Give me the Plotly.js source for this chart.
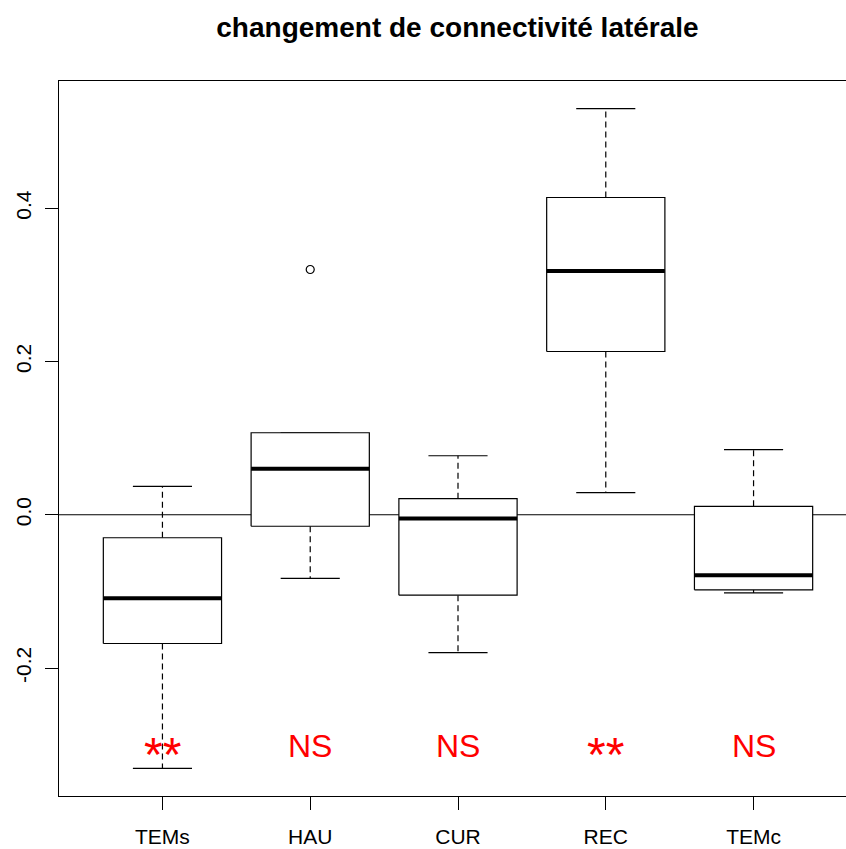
<!DOCTYPE html>
<html>
<head>
<meta charset="utf-8">
<script src="https://cdn.plot.ly/plotly-3.0.1.min.js"></script>
<style>
html, body { margin: 0; padding: 0; overflow: hidden; background: #fff; }
#chart { width: 870px; height: 849px; }
</style>
</head>
<body>
<div id="chart"></div>
<script>
// ---- data ----
const categories   = ['TEMs', 'HAU', 'CUR', 'REC', 'TEMc'];
const lowerWhisker = [-0.331, -0.083, -0.180, 0.029, -0.102];
const q1           = [-0.168, -0.015, -0.105, 0.213, -0.098];
const medians      = [-0.109,  0.060, -0.005, 0.318, -0.079];
const q3           = [-0.030,  0.107,  0.021, 0.414,  0.011];
const upperWhisker = [ 0.037,  0.107,  0.077, 0.530,  0.085];
const outlierCat   = ['HAU'];
const outlierVal   = [0.320];
const signif       = ['**', 'NS', 'NS', '**', 'NS'];
const signifLevel  = -0.302;
const yTicks       = [-0.2, 0.0, 0.2, 0.4];
const yTickText    = ['-0.2', '0.0', '0.2', '0.4'];

// ---- build traces ----
const boxHalf = 0.4, stapleHalf = 0.2;
const traces = [];
const pos = categories.map((c, i) => i + 1);

// whiskers (dashed)
const wx = [], wy = [];
pos.forEach((p, i) => {
  if (upperWhisker[i] > q3[i]) { wx.push(p, p, null); wy.push(q3[i], upperWhisker[i], null); }
  if (lowerWhisker[i] < q1[i]) { wx.push(p, p, null); wy.push(q1[i], lowerWhisker[i], null); }
});
traces.push({ x: wx, y: wy, type: 'scatter', mode: 'lines', hoverinfo: 'skip',
  line: { color: '#000', width: 1.2, dash: '6px,4px' }, connectgaps: false, showlegend: false });

// staples
const sx = [], sy = [];
pos.forEach((p, i) => {
  sx.push(p - stapleHalf, p + stapleHalf, null); sy.push(upperWhisker[i], upperWhisker[i], null);
  sx.push(p - stapleHalf, p + stapleHalf, null); sy.push(lowerWhisker[i], lowerWhisker[i], null);
});
traces.push({ x: sx, y: sy, type: 'scatter', mode: 'lines', hoverinfo: 'skip',
  line: { color: '#000', width: 1.2 }, showlegend: false });

// boxes
pos.forEach((p, i) => {
  traces.push({
    x: [p - boxHalf, p + boxHalf, p + boxHalf, p - boxHalf, p - boxHalf],
    y: [q1[i], q1[i], q3[i], q3[i], q1[i]],
    type: 'scatter', mode: 'lines', fill: 'toself', fillcolor: '#fff',
    line: { color: '#000', width: 1.2 }, hoverinfo: 'skip', showlegend: false
  });
});

// medians
const mx = [], my = [];
pos.forEach((p, i) => { mx.push(p - boxHalf, p + boxHalf, null); my.push(medians[i], medians[i], null); });
traces.push({ x: mx, y: my, type: 'scatter', mode: 'lines', hoverinfo: 'skip',
  line: { color: '#000', width: 4 }, showlegend: false });

// outliers
traces.push({
  x: outlierCat.map(c => categories.indexOf(c) + 1), y: outlierVal,
  type: 'scatter', mode: 'markers', hoverinfo: 'skip', showlegend: false,
  marker: { symbol: 'circle-open', size: 8, color: '#000', line: { width: 1.2, color: '#000' } }
});

// significance labels
const annotations = signif.map((s, i) => {
  const star = s.indexOf('*') >= 0;
  return {
    x: pos[i], y: signifLevel, xref: 'x', yref: 'y', text: s, showarrow: false,
    xanchor: 'center', yanchor: 'middle', yshift: star ? -8 : 0,
    font: { family: 'Liberation Sans, Arial, sans-serif', size: star ? 48 : 32, color: '#ff0000' }
  };
});

const layout = {
  width: 870, height: 849,
  margin: { l: 59, r: 13, t: 81, b: 53 },
  paper_bgcolor: '#fff', plot_bgcolor: '#fff',
  font: { family: 'Liberation Sans, Arial, sans-serif', color: '#000', size: 21 },
  title: {
    text: '<b>changement de connectivité latérale</b>',
    font: { family: 'Liberation Sans, Arial, sans-serif', size: 28, color: '#000' },
    x: 457.5 / 870, xanchor: 'center', xref: 'container',
    y: 1 - 27 / 849, yanchor: 'middle', yref: 'container'
  },
  xaxis: {
    range: [0.3, 5.7], tickmode: 'array', tickvals: pos, ticktext: categories,
    showgrid: false, zeroline: false, showline: true, mirror: true,
    linecolor: '#000', linewidth: 1, ticks: 'outside', ticklen: 13, tickwidth: 1, tickcolor: '#000',
    tickfont: { size: 21, color: '#000' }, ticklabelstandoff: 9, fixedrange: true
  },
  yaxis: {
    range: [-0.367, 0.566], tickmode: 'array', tickvals: yTicks, ticktext: yTickText,
    showgrid: false, zeroline: false, showline: true, mirror: true,
    linecolor: '#000', linewidth: 1, ticks: 'outside', ticklen: 13, tickwidth: 1, tickcolor: '#000',
    tickangle: -90, tickfont: { size: 21, color: '#000' }, ticklabelstandoff: 6, fixedrange: true
  },
  shapes: [{ type: 'line', xref: 'paper', x0: 0, x1: 1, yref: 'y', y0: 0, y1: 0,
             line: { color: '#000', width: 1 }, layer: 'below' }],
  annotations: annotations,
  showlegend: false
};

Plotly.newPlot('chart', traces, layout, { displayModeBar: false, staticPlot: true });
</script>
</body>
</html>
